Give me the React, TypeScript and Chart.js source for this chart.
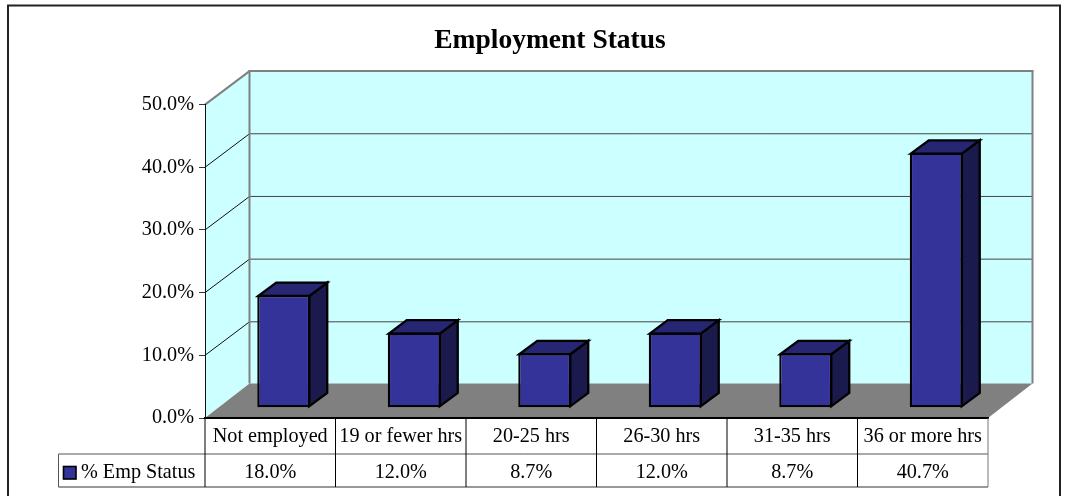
import React, { useEffect, useRef } from "react";
import { Chart, registerables } from "chart.js";

Chart.register(...registerables);

const chartTitle = "Employment Status";
const seriesName = "% Emp Status";
const categories = ["Not employed", "19 or fewer hrs", "20-25 hrs", "26-30 hrs", "31-35 hrs", "36 or more hrs"];
const seriesValues = [18.0, 12.0, 8.7, 12.0, 8.7, 40.7];

const FONT = "'Liberation Serif', 'Times New Roman', serif";
const TEXT_SIZE = 20.2;
const WALL = "#ccffff";
const GREY = "#808080";
const BAR = "#333399";
const BAR_TOP = "#262673";
const BAR_SIDE = "#1a1a4d";

// 3D projection offsets, in pixels
const WALL_DX = 44.5;
const WALL_DY = -33.5;
const BAR_SHIFT_X = 13.5;
const BAR_SHIFT_Y = -10.2;
const BAR_DX = 18;
const BAR_DY = -13.4;

const poly = (ctx: CanvasRenderingContext2D, pts: number[][], fill?: string, stroke?: string, lw = 1) => {
  ctx.beginPath();
  pts.forEach(([x, y], i) => (i ? ctx.lineTo(x, y) : ctx.moveTo(x, y)));
  ctx.closePath();
  if (fill) {
    ctx.fillStyle = fill;
    ctx.fill();
  }
  if (stroke) {
    ctx.strokeStyle = stroke;
    ctx.lineWidth = lw;
    ctx.lineJoin = "miter";
    ctx.stroke();
  }
};

const line = (ctx: CanvasRenderingContext2D, x1: number, y1: number, x2: number, y2: number, c: string, lw = 1) => {
  ctx.beginPath();
  ctx.moveTo(x1, y1);
  ctx.lineTo(x2, y2);
  ctx.strokeStyle = c;
  ctx.lineWidth = lw;
  ctx.stroke();
};

const scene3d = {
  id: "scene3d",
  beforeDraw(chart: any) {
    const { ctx, chartArea: a, scales } = chart;
    const y = scales.y;
    ctx.save();
    ctx.fillStyle = "#ffffff";
    ctx.fillRect(0, 0, chart.width, chart.height);
    // outer frame, runs past the bottom of the picture
    ctx.strokeStyle = "#222222";
    ctx.lineWidth = 2;
    ctx.strokeRect(8, 5.5, 1052, 520);

    const bl = a.left + WALL_DX;
    const br = a.right + WALL_DX;
    const bt = a.top + WALL_DY;
    const bb = a.bottom + WALL_DY - 1;
    // left wall, back wall
    poly(ctx, [[a.left, a.top], [bl, bt], [bl, bb], [a.left, a.bottom]], WALL);
    poly(ctx, [[bl, bt], [br, bt], [br, bb], [bl, bb]], WALL);
    // grid lines
    y.ticks.forEach((t: any) => {
      if (t.value <= y.min || t.value >= y.max) return;
      const py = y.getPixelForValue(t.value);
      line(ctx, a.left, py, bl, py + WALL_DY, "#111111", 1);
      line(ctx, bl, py + WALL_DY, br, py + WALL_DY, "#444444", 1);
    });
    // floor
    poly(ctx, [[a.left, a.bottom], [bl, bb], [br, bb], [a.right, a.bottom]], GREY);
    // wall edges
    line(ctx, a.left, a.top, bl, bt, GREY, 2);
    line(ctx, bl - 1, bt, br + 1, bt, GREY, 2);
    line(ctx, bl, bt, bl, bb, GREY, 2);
    line(ctx, br, bt, br, bb, GREY, 2);
    ctx.restore();
  },
  beforeDatasetDraw(chart: any) {
    const ctx = chart.ctx;
    ctx.save();
    ctx.translate(BAR_SHIFT_X, BAR_SHIFT_Y);
    chart.getDatasetMeta(0).data.forEach((b: any) => {
      const l = b.x - b.width / 2;
      const r = b.x + b.width / 2;
      const t = b.y;
      const base = b.base;
      poly(ctx, [[r - 1, t + 1], [r - 1 + BAR_DX, t + 1 + BAR_DY], [r - 1 + BAR_DX, base - 1 + BAR_DY], [r - 1, base - 1]], BAR_SIDE, "#000000", 2.3);
      poly(ctx, [[l + 1, t + 1], [l + 1 + BAR_DX, t + 1 + BAR_DY], [r - 1 + BAR_DX, t + 1 + BAR_DY], [r - 1, t + 1]], BAR_TOP, "#000000", 2.3);
    });
  },
  afterDatasetDraw(chart: any) {
    chart.ctx.restore();
  },
  afterDraw(chart: any) {
    const { ctx, chartArea: a, scales } = chart;
    const x = scales.x;
    const n = categories.length;
    const step = x.width / n;
    const row1 = a.bottom + 36;
    const row2 = a.bottom + 69;
    const keyLeft = 58.5;
    ctx.save();
    // table rules
    line(ctx, keyLeft, row1, x.right, row1, "#555555", 1);
    line(ctx, keyLeft, row2, x.right, row2, "#777777", 1.5);
    line(ctx, keyLeft, row1, keyLeft, row2, "#555555", 1);
    for (let i = 0; i < n; i++) {
      line(ctx, x.left + i * step, a.bottom, x.left + i * step, row2, "#000000", 1);
    }
    line(ctx, x.right, a.bottom, x.right, row2, "#777777", 1);
    // values row
    ctx.fillStyle = "#000000";
    ctx.font = `${TEXT_SIZE}px ${FONT}`;
    ctx.textBaseline = "middle";
    ctx.textAlign = "center";
    seriesValues.forEach((v, i) => {
      ctx.fillText(`${v.toFixed(1)}%`, x.getPixelForValue(i), (row1 + row2) / 2 + 2);
    });
    // legend key and series name
    ctx.textAlign = "left";
    ctx.fillText(seriesName, 81, (row1 + row2) / 2 + 2);
    ctx.fillStyle = BAR;
    ctx.strokeStyle = "#000000";
    ctx.lineWidth = 1.6;
    ctx.fillRect(63.5, 466.5, 12.5, 12.5);
    ctx.strokeRect(63.5, 466.5, 12.5, 12.5);
    ctx.restore();
  },
};

export default function App() {
  const ref = useRef<HTMLCanvasElement | null>(null);
  useEffect(() => {
    document.body.style.margin = "0";
    const chart = new Chart(ref.current as HTMLCanvasElement, {
      type: "bar",
      data: {
        labels: categories,
        datasets: [
          {
            label: seriesName,
            data: seriesValues,
            backgroundColor: BAR,
            borderColor: "#000000",
            borderWidth: 2.3,
            borderSkipped: false,
            categoryPercentage: 1,
            barPercentage: 0.406,
            clip: false,
          } as any,
        ],
      },
      options: {
        responsive: false,
        animation: false,
        layout: { autoPadding: false, padding: { left: 112, right: 80, top: 0, bottom: 0 } },
        plugins: {
          legend: { display: false },
          tooltip: { enabled: false },
          title: {
            display: true,
            text: chartTitle,
            color: "#000000",
            font: { family: FONT, size: 27.5, weight: "bold", lineHeight: 1.2 },
            padding: { top: 24, bottom: 47.6 },
          },
        },
        scales: {
          x: {
            type: "category",
            afterFit: (s: any) => {
              s.height = 78;
            },
            grid: { display: false, drawTicks: false },
            border: { display: true, color: "#000000", width: 2 },
            ticks: {
              autoSkip: false,
              maxRotation: 0,
              minRotation: 0,
              padding: 7,
              color: "#000000",
              font: { family: FONT, size: TEXT_SIZE, lineHeight: 1.2 },
            },
          },
          y: {
            min: 0,
            max: 50,
            afterFit: (s: any) => {
              s.width = 93;
            },
            grid: { drawOnChartArea: false, drawTicks: true, tickLength: 6, color: "#333333" },
            border: { display: true, color: "#111111", width: 1 },
            ticks: {
              stepSize: 10,
              padding: 5,
              color: "#000000",
              font: { family: FONT, size: TEXT_SIZE, lineHeight: 1.2 },
              callback: (v: any) => `${Number(v).toFixed(1)}%`,
            },
          },
        },
      },
      plugins: [scene3d],
    } as any);
    return () => chart.destroy();
  }, []);
  return (
    <div style={{ position: "absolute", left: 0, top: 0, width: 1068, height: 496, overflow: "hidden" }}>
      <canvas ref={ref} width={1068} height={496} style={{ display: "block" }} />
    </div>
  );
}
